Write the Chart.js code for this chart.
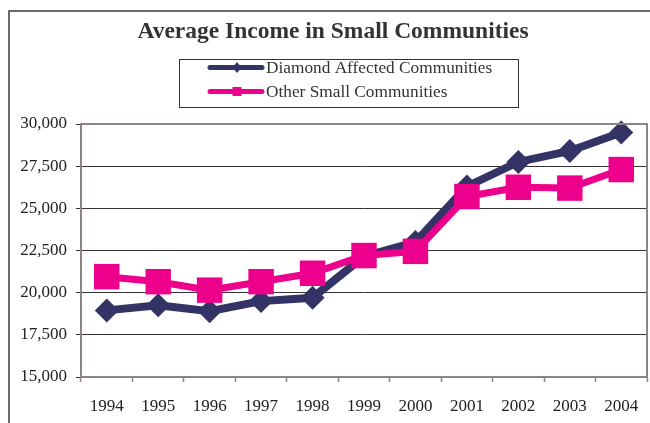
<!DOCTYPE html>
<html>
<head>
<meta charset="utf-8">
<script src="https://cdn.jsdelivr.net/npm/chart.js@4/dist/chart.umd.min.js"></script>
<style>
  html, body { margin: 0; padding: 0; background: #fff; overflow: hidden; }
  #wrap { width: 650px; height: 423px; }
</style>
</head>
<body>
<div id="wrap"><canvas id="c" width="650" height="423"></canvas></div>
<script>
const chartTitle = 'Average Income in Small Communities';
const years = ['1994', '1995', '1996', '1997', '1998', '1999', '2000', '2001', '2002', '2003', '2004'];
const diamondAffected = [18950, 19250, 18900, 19500, 19700, 22150, 23000, 26300, 27750, 28400, 29500];
const otherSmall = [20950, 20650, 20150, 20650, 21150, 22200, 22450, 25700, 26250, 26200, 27300];
const seriesNames = ['Diamond Affected Communities', 'Other Small Communities'];
const yMin = 15000, yMax = 30000, yStep = 2500;

const NAVY = '#333366';
const PINK = '#EC008C';
const SERIF = '"Liberation Serif", "Times New Roman", serif';

// Frame, title and legend box drawn straight onto the canvas
const decor = {
  id: 'decor',
  beforeDraw(chart) {
    const ctx = chart.ctx;
    ctx.save();
    ctx.fillStyle = '#fff';
    ctx.fillRect(0, 0, chart.width, chart.height);
    ctx.strokeStyle = '#3a3a3a';
    ctx.lineWidth = 1.5;
    ctx.beginPath();
    ctx.moveTo(9, chart.height + 5);
    ctx.lineTo(9, 11);
    ctx.lineTo(chart.width + 5, 11);
    ctx.stroke();
    ctx.restore();
  },
  afterDraw(chart) {
    const ctx = chart.ctx;
    ctx.save();
    // title
    ctx.fillStyle = '#333';
    ctx.font = 'bold 23.5px ' + SERIF;
    ctx.textAlign = 'center';
    ctx.textBaseline = 'alphabetic';
    ctx.fillText(chartTitle, 333, 38);

    // legend
    ctx.strokeStyle = '#333';
    ctx.lineWidth = 1;
    ctx.strokeRect(179.5, 59.5, 339, 48);
    const rows = [67.5, 91.5];
    chart.data.datasets.forEach((ds, i) => {
      const y = rows[i];
      ctx.strokeStyle = ds.borderColor;
      ctx.lineWidth = 5;
      ctx.lineCap = 'round';
      ctx.beginPath();
      ctx.moveTo(210, y);
      ctx.lineTo(262, y);
      ctx.stroke();
      ctx.fillStyle = ds.borderColor;
      ctx.beginPath();
      if (ds.pointStyle === 'rectRot') {
        ctx.moveTo(237, y - 5.5);
        ctx.lineTo(241.5, y);
        ctx.lineTo(237, y + 5.5);
        ctx.lineTo(232.5, y);
        ctx.closePath();
      } else {
        ctx.rect(232.5, y - 4.5, 9, 9);
      }
      ctx.fill();
      ctx.fillStyle = '#333';
      ctx.font = '17.3px ' + SERIF;
      ctx.textAlign = 'left';
      ctx.textBaseline = 'middle';
      ctx.fillText(ds.label, 266, y + 1);
    });

    // plot area border
    const a = chart.chartArea;
    ctx.strokeStyle = '#8c8480';
    ctx.lineWidth = 2;
    ctx.lineCap = 'butt';
    ctx.strokeRect(a.left, a.top, a.right - a.left, a.bottom - a.top);
    ctx.restore();
  }
};

new Chart(document.getElementById('c'), {
  type: 'line',
  data: {
    labels: years,
    datasets: [
      {
        label: seriesNames[0],
        data: diamondAffected,
        borderColor: NAVY,
        backgroundColor: NAVY,
        borderWidth: 8,
        pointStyle: 'rectRot',
        pointRadius: 12,
        pointBorderWidth: 0,
        tension: 0,
        clip: false,
        order: 1
      },
      {
        label: seriesNames[1],
        data: otherSmall,
        borderColor: PINK,
        backgroundColor: PINK,
        borderWidth: 7,
        pointStyle: 'rect',
        pointRadius: 18,
        pointBorderWidth: 0,
        tension: 0,
        clip: false,
        order: 0
      }
    ]
  },
  options: {
    responsive: false,
    animation: false,
    events: [],
    layout: { autoPadding: false, padding: { top: 124, left: 0, right: 3, bottom: 0 } },
    plugins: {
      legend: { display: false },
      title: { display: false },
      tooltip: { enabled: false }
    },
    scales: {
      x: {
        offset: true,
        afterFit(scale) {
          scale.height = 46;
          scale.paddingLeft = 0;
          scale.paddingRight = 0;
        },
        grid: {
          offset: true,
          drawOnChartArea: false,
          drawTicks: true,
          tickLength: 5,
          tickColor: '#8c8480',
          tickWidth: 1.5
        },
        border: { display: true, color: '#8c8480', width: 2 },
        ticks: {
          color: '#222',
          font: { family: SERIF, size: 17 },
          padding: 14,
          maxRotation: 0,
          autoSkip: false
        }
      },
      y: {
        min: yMin,
        max: yMax,
        afterFit(scale) {
          scale.width = 81;
          scale.paddingTop = 0;
          scale.paddingBottom = 0;
        },
        grid: {
          color: '#333',
          lineWidth: 1,
          tickLength: 5,
          tickColor: '#333'
        },
        border: { display: true, color: '#8c8480', width: 2 },
        ticks: {
          stepSize: yStep,
          color: '#222',
          font: { family: SERIF, size: 17 },
          padding: 9,
          callback: v => v.toLocaleString('en-US')
        }
      }
    }
  },
  plugins: [decor]
});
</script>
</body>
</html>
